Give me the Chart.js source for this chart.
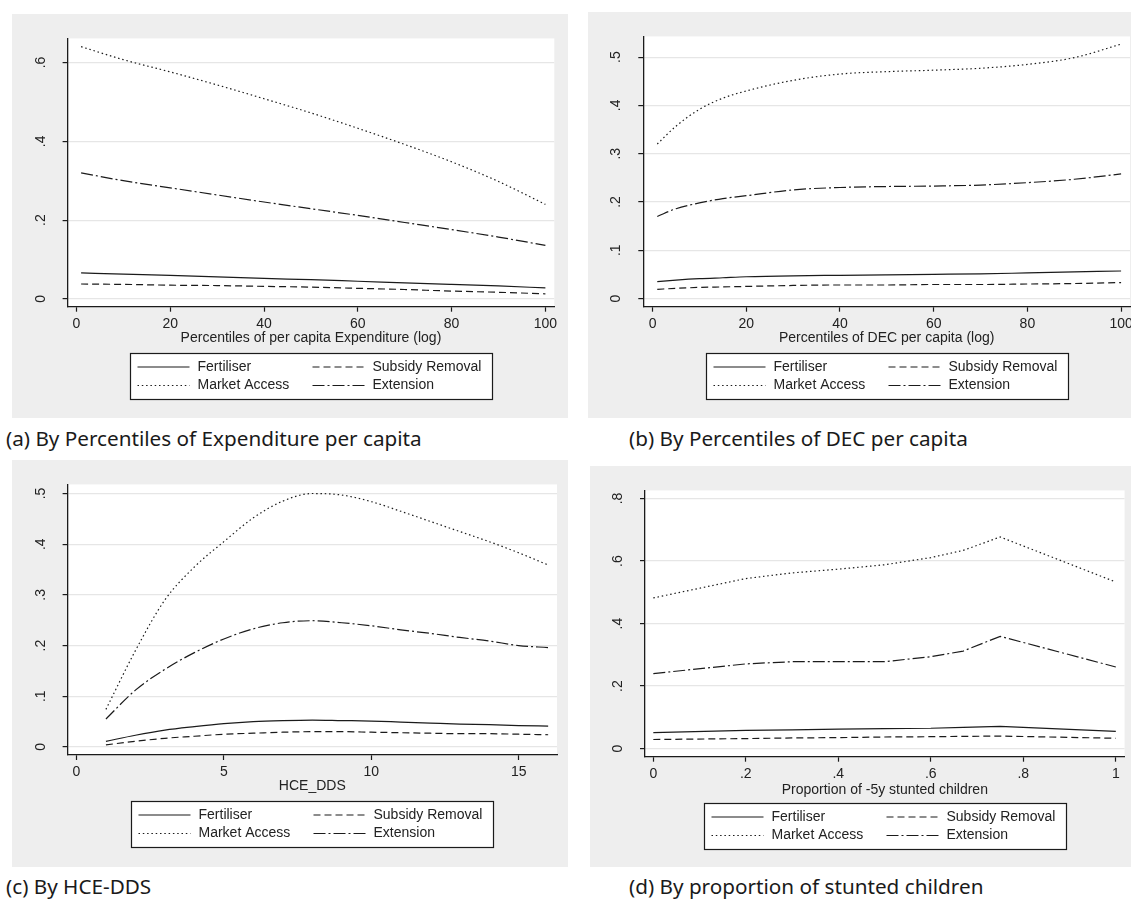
<!DOCTYPE html>
<html>
<head>
<meta charset="utf-8">
<script src="https://cdn.jsdelivr.net/npm/chart.js@4.4.1/dist/chart.umd.min.js"></script>
<style>
  html, body { margin: 0; padding: 0; background: #fff; width: 1131px; height: 899px; overflow: hidden; }
  body { position: relative; }
  .panel { position: absolute; background: #eeeeee; }
  .panel canvas { display: block; }
  .cap { position: absolute; font-family: "Noto Sans", sans-serif; font-size: 20.7px; color: #1a1a1a; white-space: nowrap; line-height: 1; }
</style>
</head>
<body>
<div class="panel" id="pa"><canvas id="ca"></canvas></div>
<div class="panel" id="pb"><canvas id="cb"></canvas></div>
<div class="panel" id="pc"><canvas id="cc"></canvas></div>
<div class="panel" id="pd"><canvas id="cd"></canvas></div>
<div class="cap" style="left:6px; top:428px;">(a) By Percentiles of Expenditure per capita</div>
<div class="cap" style="left:629px; top:428px;">(b) By Percentiles of DEC per capita</div>
<div class="cap" style="left:6px; top:876px;">(c) By HCE-DDS</div>
<div class="cap" style="left:629px; top:876px;">(d) By proportion of stunted children</div>
<script>
// series names (same in all four panels)
const seriesNames = ['Fertiliser', 'Subsidy Removal', 'Market Access', 'Extension'];

// (a) percentiles of per capita expenditure
const expX = [1, 10, 20, 30, 40, 50, 60, 70, 80, 90, 100];
const expFertiliser = [0.066, 0.063, 0.060, 0.056, 0.052, 0.049, 0.045, 0.041, 0.037, 0.033, 0.028];
const expSubsidy = [0.038, 0.037, 0.035, 0.034, 0.032, 0.030, 0.027, 0.024, 0.020, 0.017, 0.013];
const expMarket = [0.640, 0.607, 0.576, 0.543, 0.508, 0.472, 0.433, 0.392, 0.348, 0.298, 0.240];
const expExtension = [0.320, 0.300, 0.282, 0.264, 0.246, 0.229, 0.212, 0.194, 0.176, 0.157, 0.136];
const expYTicks = [0, 0.2, 0.4, 0.6];
const expYLabels = ['0', '.2', '.4', '.6'];
const expXTicks = [0, 20, 40, 60, 80, 100];
const expXLabels = ['0', '20', '40', '60', '80', '100'];

// (b) percentiles of DEC per capita
const decX = [1, 5, 10, 15, 20, 30, 40, 50, 60, 70, 80, 90, 100];
const decFertiliser = [0.035, 0.038, 0.041, 0.043, 0.045, 0.047, 0.048, 0.049, 0.050, 0.051, 0.053, 0.055, 0.057];
const decSubsidy = [0.019, 0.021, 0.023, 0.024, 0.025, 0.027, 0.028, 0.028, 0.029, 0.029, 0.030, 0.031, 0.033];
const decMarket = [0.320, 0.357, 0.392, 0.415, 0.430, 0.452, 0.465, 0.470, 0.473, 0.477, 0.485, 0.499, 0.527];
const decExtension = [0.170, 0.186, 0.198, 0.207, 0.213, 0.225, 0.230, 0.232, 0.233, 0.235, 0.240, 0.247, 0.258];
const decYTicks = [0, 0.1, 0.2, 0.3, 0.4, 0.5];
const decYLabels = ['0', '.1', '.2', '.3', '.4', '.5'];
const decXTicks = [0, 20, 40, 60, 80, 100];
const decXLabels = ['0', '20', '40', '60', '80', '100'];

// (c) HCE_DDS
const ddsX = [1, 2, 3, 4, 5, 6, 7, 8, 9, 10, 11, 12, 13, 14, 15, 16];
const ddsFertiliser = [0.011, 0.023, 0.033, 0.040, 0.046, 0.050, 0.052, 0.053, 0.052, 0.051, 0.049, 0.047, 0.045, 0.044, 0.042, 0.041];
const ddsSubsidy = [0.004, 0.011, 0.017, 0.021, 0.025, 0.027, 0.029, 0.030, 0.030, 0.029, 0.028, 0.027, 0.026, 0.026, 0.025, 0.024];
const ddsMarket = [0.074, 0.190, 0.290, 0.355, 0.405, 0.452, 0.485, 0.500, 0.497, 0.484, 0.465, 0.445, 0.425, 0.405, 0.383, 0.359];
const ddsExtension = [0.055, 0.112, 0.153, 0.186, 0.213, 0.233, 0.245, 0.249, 0.245, 0.239, 0.231, 0.224, 0.216, 0.209, 0.200, 0.196];
const ddsYTicks = [0, 0.1, 0.2, 0.3, 0.4, 0.5];
const ddsYLabels = ['0', '.1', '.2', '.3', '.4', '.5'];
const ddsXTicks = [0, 5, 10, 15];
const ddsXLabels = ['0', '5', '10', '15'];

// (d) proportion of under-5 stunted children
const stuntX = [0, 0.2, 0.3, 0.4, 0.5, 0.6, 0.67, 0.75, 1];
const stuntFertiliser = [0.051, 0.058, 0.060, 0.062, 0.064, 0.065, 0.068, 0.071, 0.055];
const stuntSubsidy = [0.029, 0.032, 0.034, 0.035, 0.037, 0.038, 0.039, 0.040, 0.033];
const stuntMarket = [0.482, 0.544, 0.562, 0.574, 0.588, 0.611, 0.634, 0.677, 0.533];
const stuntExtension = [0.240, 0.271, 0.278, 0.278, 0.278, 0.294, 0.312, 0.359, 0.261];
const stuntYTicks = [0, 0.2, 0.4, 0.6, 0.8];
const stuntYLabels = ['0', '.2', '.4', '.6', '.8'];
const stuntXTicks = [0, 0.2, 0.4, 0.6, 0.8, 1];
const stuntXLabels = ['0', '.2', '.4', '.6', '.8', '1'];

// stata-like line patterns: solid, dash, dot, dash-dot
const lineDashes = [[], [7, 4], [1.5, 2.8], [12, 3, 2, 3]];
const ink = '#1b1b1b';

Chart.defaults.font.family = '"Liberation Sans", Arial, sans-serif';
Chart.defaults.font.size = 14;
Chart.defaults.color = '#222';

// white plot region
const plotBg = {
  id: 'plotBg',
  beforeDraw(chart) {
    const a = chart.chartArea;
    const ctx = chart.ctx;
    ctx.save();
    ctx.fillStyle = '#fff';
    ctx.fillRect(a.left, a.top, a.right - a.left, a.bottom - a.top);
    ctx.restore();
  }
};

// framed 2x2 legend under the plot
const boxLegend = {
  id: 'boxLegend',
  afterDraw(chart) {
    const a = chart.chartArea;
    const ctx = chart.ctx;
    const w = 362, h = 46;
    const left = Math.round((a.left + a.right) / 2 - w / 2) + 0.5;
    const top = Math.round(a.bottom + 46) + 0.5;
    ctx.save();
    ctx.fillStyle = '#fff';
    ctx.fillRect(left, top, w, h);
    ctx.strokeStyle = ink;
    ctx.lineWidth = 1.2;
    ctx.strokeRect(left, top, w, h);
    ctx.font = '14px "Liberation Sans", Arial, sans-serif';
    ctx.textBaseline = 'middle';
    ctx.fillStyle = '#222';
    chart.data.datasets.forEach((ds, i) => {
      const col = i % 2, row = Math.floor(i / 2);
      const x0 = left + (col ? 182 : 7);
      const y = top + (row ? 32 : 13.5);
      ctx.beginPath();
      ctx.setLineDash(ds.borderDash || []);
      ctx.lineWidth = ds.borderWidth;
      ctx.strokeStyle = ds.borderColor;
      ctx.moveTo(x0, y);
      ctx.lineTo(x0 + 52, y);
      ctx.stroke();
      ctx.setLineDash([]);
      ctx.fillText(ds.label, x0 + 60, y);
    });
    ctx.restore();
  }
};

function makePanel(p) {
  const panel = document.getElementById(p.panelId);
  panel.style.left = p.box[0] + 'px';
  panel.style.top = p.box[1] + 'px';
  panel.style.width = p.box[2] + 'px';
  panel.style.height = p.box[3] + 'px';
  const canvas = document.getElementById(p.canvasId);
  canvas.width = p.box[2];
  canvas.height = p.box[3];

  const [cl, ct, cr, cb] = p.area;
  const yWidth = cl - p.box[0];
  const xHeight = p.xHeight;

  const datasets = p.series.map((vals, i) => ({
    label: seriesNames[i],
    data: p.x.map((xv, k) => ({ x: xv, y: vals[k] })),
    borderColor: ink,
    borderWidth: 1.2,
    borderDash: lineDashes[i],
    pointRadius: 0,
    fill: false,
    tension: p.tension,
    cubicInterpolationMode: p.tension ? 'monotone' : 'default'
  }));

  return new Chart(canvas.getContext('2d'), {
    type: 'line',
    data: { datasets },
    options: {
      responsive: false,
      animation: false,
      events: [],
      layout: {
        padding: {
          left: 0,
          top: ct - p.box[1],
          right: p.box[0] + p.box[2] - cr,
          bottom: p.box[1] + p.box[3] - cb - xHeight
        }
      },
      plugins: { legend: { display: false }, tooltip: { enabled: false } },
      scales: {
        x: {
          type: 'linear',
          min: p.xRange[0],
          max: p.xRange[1],
          afterBuildTicks: s => { s.ticks = p.xTicks.map(v => ({ value: v })); },
          afterFit: s => { s.height = xHeight; },
          ticks: { padding: 4, maxRotation: 0, autoSkip: false, callback: (v, i) => p.xLabels[i] },
          grid: { drawOnChartArea: false, tickLength: 5, tickColor: ink, tickWidth: 1.2 },
          border: { display: true, color: ink, width: 1.3 },
          title: { display: true, text: p.xTitle, padding: { top: 0, bottom: 0 }, font: { size: 14 } }
        },
        y: {
          type: 'linear',
          min: p.yRange[0],
          max: p.yRange[1],
          afterBuildTicks: s => { s.ticks = p.yTicks.map(v => ({ value: v })); },
          afterFit: s => { s.width = yWidth; },
          ticks: { padding: 16, minRotation: 90, maxRotation: 90, crossAlign: 'center', autoSkip: false, callback: (v, i) => p.yLabels[i] },
          grid: { color: '#e6e6e6', lineWidth: 1.2, tickLength: 5, tickColor: ink, tickWidth: 1.2 },
          border: { display: true, color: ink, width: 1.3 }
        }
      }
    },
    plugins: [plotBg, boxLegend]
  });
}

makePanel({
  panelId: 'pa', canvasId: 'ca', box: [12, 14, 556, 404], area: [67.6, 29, 554.3, 306.7], xHeight: 40,
  x: expX, series: [expFertiliser, expSubsidy, expMarket, expExtension], tension: 0.4,
  xRange: [-1.88, 101.9], yRange: [-0.0196, 0.661],
  xTicks: expXTicks, xLabels: expXLabels, yTicks: expYTicks, yLabels: expYLabels,
  xTitle: 'Percentiles of per capita Expenditure (log)'
});

makePanel({
  panelId: 'pb', canvasId: 'cb', box: [588, 12, 556, 406], area: [643.3, 26.7, 1130, 306.7], xHeight: 40,
  x: decX, series: [decFertiliser, decSubsidy, decMarket, decExtension], tension: 0.4,
  xRange: [-1.98, 101.9], yRange: [-0.017, 0.543],
  xTicks: decXTicks, xLabels: decXLabels, yTicks: decYTicks, yLabels: decYLabels,
  xTitle: 'Percentiles of DEC per capita (log)'
});

makePanel({
  panelId: 'pc', canvasId: 'cc', box: [12, 460, 556, 407], area: [67.6, 475, 557, 755], xHeight: 40,
  x: ddsX, series: [ddsFertiliser, ddsSubsidy, ddsMarket, ddsExtension], tension: 0.4,
  xRange: [-0.3, 16.3], yRange: [-0.016, 0.518],
  xTicks: ddsXTicks, xLabels: ddsXLabels, yTicks: ddsYTicks, yLabels: ddsYLabels,
  xTitle: 'HCE_DDS'
});

makePanel({
  panelId: 'pd', canvasId: 'cd', box: [590, 466, 556, 401], area: [645, 481, 1124.6, 756.7], xHeight: 42,
  x: stuntX, series: [stuntFertiliser, stuntSubsidy, stuntMarket, stuntExtension], tension: 0,
  xRange: [-0.018, 1.019], yRange: [-0.026, 0.826],
  xTicks: stuntXTicks, xLabels: stuntXLabels, yTicks: stuntYTicks, yLabels: stuntYLabels,
  xTitle: 'Proportion of -5y stunted children'
});
</script>
</body>
</html>
